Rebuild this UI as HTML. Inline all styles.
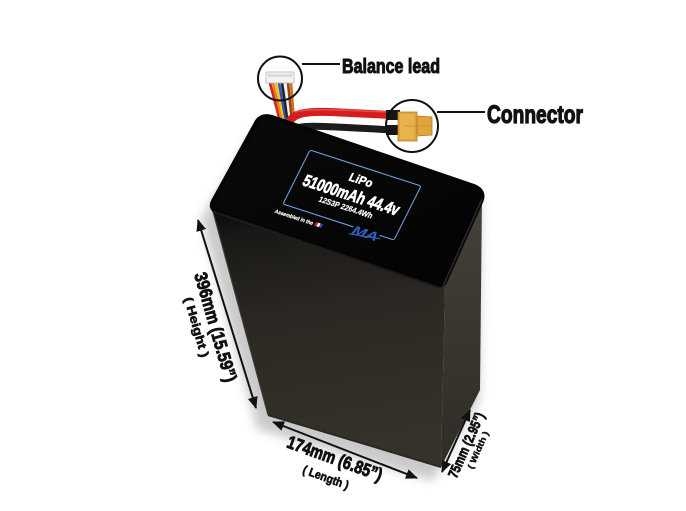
<!DOCTYPE html>
<html><head><meta charset="utf-8"><style>
html,body{margin:0;padding:0;background:#fff;}
body{width:686px;height:511px;overflow:hidden;}
svg{display:block;}
text{font-family:"Liberation Sans Narrow","Liberation Sans",sans-serif;font-weight:bold;}
</style></head><body>
<svg width="686" height="511" viewBox="0 0 686 511" xmlns="http://www.w3.org/2000/svg">
<defs>
  <filter id="blur" x="-20%" y="-20%" width="140%" height="140%"><feGaussianBlur stdDeviation="5"/></filter>
  <linearGradient id="front" x1="0" y1="0" x2="0.15" y2="1">
    <stop offset="0" stop-color="#0a0908"/>
    <stop offset="0.12" stop-color="#1a1816"/>
    <stop offset="0.45" stop-color="#2b2823"/>
    <stop offset="1" stop-color="#35322b"/>
  </linearGradient>
  <linearGradient id="right" x1="0" y1="0" x2="0" y2="1">
    <stop offset="0" stop-color="#46423a"/>
    <stop offset="0.5" stop-color="#3a362f"/>
    <stop offset="1" stop-color="#2f2c27"/>
  </linearGradient>
  <linearGradient id="top" x1="0" y1="0" x2="1" y2="1">
    <stop offset="0" stop-color="#0a0a0a"/>
    <stop offset="1" stop-color="#030303"/>
  </linearGradient>
  <marker id="ah" viewBox="0 0 12 10" refX="11" refY="5" markerWidth="12" markerHeight="10" markerUnits="userSpaceOnUse" orient="auto-start-reverse">
    <path d="M0,0 L12,5 L0,10 z" fill="#111"/>
  </marker>
</defs>

<!-- shadow -->
<polygon points="206,214 262,122 486,196 484,396 438,476 262,424" fill="#8a8a8a" opacity="0.45" filter="url(#blur)" transform="translate(-5,5)"/>

<!-- wires (behind battery) -->
<g>
  <g stroke-width="2.6" fill="none">
    <path d="M270,83 L280,121" stroke="#d02020"/>
    <path d="M273,83 L282,121" stroke="#f07a10"/>
    <path d="M276,83 L284,121" stroke="#e8c820"/>
    <path d="M279,83 L286,121" stroke="#3050c0"/>
    <path d="M282,83 L288,121" stroke="#222"/>
    <path d="M285,83 L290,121" stroke="#f0f0f0"/>
    <path d="M288,83 L292,121" stroke="#8a4a20"/>
    <path d="M291,83 L294,121" stroke="#e06a10"/>
  </g>
  <rect x="266" y="72" width="28" height="11" fill="#f2f2f2" stroke="#b8b8b8" stroke-width="0.8"/>
  <rect x="268" y="74" width="24" height="3" fill="#dcdcdc"/>
  <path d="M293,130 C300,124 320,126 392,130" stroke="#1b1b1b" stroke-width="7" fill="none"/>
  <path d="M287,126 C291,114 302,111 330,112 L392,115" stroke="#d41e1e" stroke-width="8" fill="none"/>
  <path d="M295,112 C305,109 320,109 390,112" stroke="#f06060" stroke-width="1.5" fill="none" opacity="0.7"/>
  <rect x="386" y="110" width="14" height="10" fill="#161616"/>
  <rect x="386" y="125" width="14" height="10" fill="#161616"/>
  <polygon points="398,112 417,112 417,116 432,117 432,135 417,136 417,141 398,141" fill="#e2a43c" stroke="#b47a22" stroke-width="0.8"/>
  <rect x="400" y="114" width="14" height="25" fill="#eab24c"/>
  <line x1="417" y1="117" x2="417" y2="135" stroke="#b47a22" stroke-width="1"/>
  <line x1="404" y1="126" x2="432" y2="126" stroke="#c48a2c" stroke-width="0.8"/>
</g>

<!-- battery body -->
<polygon points="445,283 482,195 480,390 441,467" fill="url(#right)"/>
<polygon points="212,208 445,283 441,467 268,415" fill="url(#front)"/>
<path d="M212,208 L268,415" stroke="#3c3a35" stroke-width="1.2"/>
<path d="M268,415 L441,467" stroke="#2a2823" stroke-width="2"/>
<path d="M257,121 Q262,114 272,117 L474,186 Q486,191 481,202 L446,280 Q443,287 435,285 L218,212 Q209,209 213,201 Z" fill="url(#top)" stroke="#050505" stroke-width="4" stroke-linejoin="round"/>
<path d="M214,212 L440,288" stroke="#1f1d1b" stroke-width="2"/>
<path d="M443,286 L482,199" stroke="#2c2a27" stroke-width="1.5"/>

<!-- label on top -->
<g transform="matrix(0.949,0.308,-0.45,0.9,310,150)">
  <rect x="0" y="0" width="117" height="60" rx="2" fill="none" stroke="#6c9fd8" stroke-width="1.1"/>
  <text x="60" y="17" font-size="12" fill="#fff" stroke="#fff" stroke-width="0.4" text-anchor="middle" textLength="24" lengthAdjust="spacingAndGlyphs">LiPo</text>
  <text x="58" y="36" font-size="17" fill="#fff" text-anchor="middle" textLength="100" lengthAdjust="spacingAndGlyphs" stroke="#fff" stroke-width="0.7">51000mAh 44.4v</text>
  <text x="58.5" y="46.5" font-size="8" fill="#fff" stroke="#fff" stroke-width="0.2" text-anchor="middle" textLength="56" lengthAdjust="spacingAndGlyphs">12S3P 2264.4Wh</text>
  <text x="-4" y="71" font-size="5.5" fill="#fff" stroke="#fff" stroke-width="0.2" textLength="40" lengthAdjust="spacingAndGlyphs">Assembled in the</text>
  <rect x="38" y="67" width="2.5" height="4" fill="#c22"/>
  <rect x="40.5" y="67" width="2.5" height="4" fill="#fff"/>
  <rect x="43" y="67" width="2.5" height="4" fill="#2a4fb0"/>
  <rect x="74" y="55" width="28" height="14" fill="#050505"/>
  <text x="88" y="67" font-size="13" fill="#2f63c4" text-anchor="middle" font-style="italic" textLength="26" lengthAdjust="spacingAndGlyphs">MA</text>
  <path d="M73,68 Q88,66 104,63" stroke="#2f63c4" stroke-width="1.2" fill="none"/>
</g>

<!-- callout circles & lines -->
<circle cx="280" cy="78.5" r="22" fill="none" stroke="#111" stroke-width="2"/>
<line x1="302" y1="64" x2="340" y2="64" stroke="#111" stroke-width="2"/>
<circle cx="412" cy="126" r="26" fill="none" stroke="#111" stroke-width="2"/>
<line x1="437" y1="112" x2="485" y2="112" stroke="#111" stroke-width="2"/>

<text x="342" y="73" font-size="20" fill="#111" stroke="#111" stroke-width="1" textLength="98" lengthAdjust="spacingAndGlyphs">Balance lead</text>
<text x="487" y="123" font-size="25" fill="#111" stroke="#111" stroke-width="1.2" textLength="96" lengthAdjust="spacingAndGlyphs">Connector</text>

<!-- dimension arrows -->
<line x1="198" y1="220" x2="256" y2="408" stroke="#111" stroke-width="2" marker-start="url(#ah)" marker-end="url(#ah)"/>
<line x1="273" y1="422" x2="417" y2="478" stroke="#111" stroke-width="2" marker-start="url(#ah)" marker-end="url(#ah)"/>
<line x1="470" y1="410" x2="442" y2="472" stroke="#111" stroke-width="2" marker-start="url(#ah)" marker-end="url(#ah)"/>

<!-- height text -->
<text transform="translate(216,327) rotate(74)" x="0" y="6.5" font-size="18" fill="#111" stroke="#111" stroke-width="0.9" text-anchor="middle" textLength="113" lengthAdjust="spacingAndGlyphs">396mm (15.59”)</text>
<text transform="translate(197,327) rotate(74)" x="0" y="4.5" font-size="12" fill="#111" stroke="#111" stroke-width="0.6" text-anchor="middle" textLength="62" lengthAdjust="spacingAndGlyphs">( Height )</text>

<!-- length text -->
<text transform="translate(335,458) rotate(20)" x="0" y="6.5" font-size="18" fill="#111" stroke="#111" stroke-width="0.9" text-anchor="middle" textLength="100" lengthAdjust="spacingAndGlyphs">174mm (6.85”)</text>
<text transform="translate(326,477) rotate(20)" x="0" y="4.5" font-size="12" fill="#111" stroke="#111" stroke-width="0.6" text-anchor="middle" textLength="48" lengthAdjust="spacingAndGlyphs">( Length )</text>

<!-- width text -->
<text transform="translate(466,445) rotate(-66)" x="0" y="5" font-size="14" fill="#111" stroke="#111" stroke-width="0.8" text-anchor="middle" textLength="70" lengthAdjust="spacingAndGlyphs">75mm (2.95”)</text>
<text transform="translate(478,450) rotate(-66)" x="0" y="3" font-size="8.5" fill="#111" stroke="#111" stroke-width="0.4" text-anchor="middle" textLength="40" lengthAdjust="spacingAndGlyphs">( Width )</text>
</svg>
</body></html>
